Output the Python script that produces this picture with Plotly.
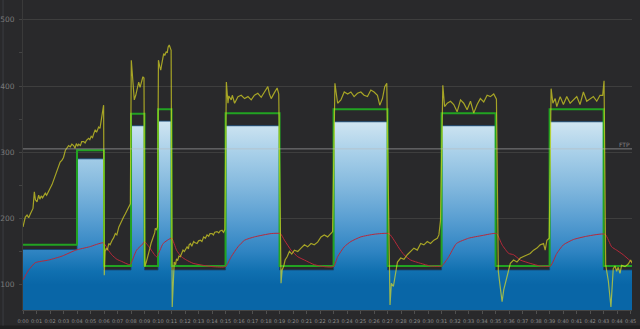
import plotly.graph_objects as go

# Workout structure: block start times (minutes), planned target and upper target band
block_start = [0, 4, 6, 8, 9, 10, 11, 15, 19, 23, 27, 31, 35, 39, 43]
workout_end = 45.1
target_w = [153, 290, 122, 340, 122, 347, 122, 340, 122, 346, 122, 340, 122, 346, 122]
upper_w = [160, 303, 128, 358, 128, 365, 128, 359, 128, 365, 128, 359, 128, 365, 128]
ftp_w = 305

# Recorded power (minutes, watts)
power_min = [
    0.00, 0.10, 0.17, 0.30, 0.42, 0.55, 0.65, 0.74, 0.84, 0.92, 1.04, 1.10, 1.16, 1.25, 1.35,
    1.45, 1.55, 1.65, 1.75, 1.90, 2.00, 2.15, 2.25, 2.40, 2.50, 2.64, 2.75, 2.89, 3.00, 3.14,
    3.25, 3.38, 3.50, 3.62, 3.75, 3.85, 3.95, 4.05, 4.12, 4.25, 4.35, 4.50, 4.60, 4.70, 4.86,
    4.95, 5.05, 5.15, 5.24, 5.35, 5.45, 5.60, 5.70, 5.78, 5.85, 5.90, 5.97,
    6.02, 6.08, 6.17, 6.25, 6.35, 6.45, 6.60, 6.70, 6.84, 6.95, 7.10, 7.20, 7.33, 7.45, 7.58,
    7.70, 7.83, 7.95,
    8.02, 8.12, 8.24, 8.35, 8.44, 8.50, 8.57, 8.67, 8.75, 8.81, 8.88, 8.96,
    9.02, 9.13, 9.22, 9.30, 9.40, 9.48, 9.58, 9.68, 9.75, 9.80, 9.88, 9.96,
    10.03, 10.12, 10.20, 10.28, 10.35, 10.42, 10.50, 10.60, 10.68, 10.75, 10.83, 10.92, 10.97,
    11.05, 11.12, 11.20, 11.30, 11.37, 11.45, 11.55, 11.65, 11.75, 11.85, 11.95, 12.05, 12.15,
    12.25, 12.30, 12.40, 12.50, 12.64, 12.75, 12.89, 13.00, 13.14, 13.25, 13.38, 13.50, 13.63,
    13.75, 13.85, 14.00, 14.10, 14.20, 14.37, 14.50, 14.60, 14.74, 14.85, 14.95,
    15.06, 15.18, 15.24, 15.42, 15.50, 15.67, 15.92, 16.16, 16.41, 16.66, 16.90, 17.14, 17.39,
    17.64, 17.88, 18.13, 18.25, 18.38, 18.62, 18.82, 18.94,
    19.11, 19.19, 19.31, 19.41, 19.56, 19.73, 19.90, 20.10, 20.35, 20.59, 20.84, 21.08, 21.33,
    21.57, 21.82, 22.07, 22.31, 22.56, 22.80, 22.93,
    23.10, 23.30, 23.54, 23.79, 24.04, 24.28, 24.52, 24.77, 25.02, 25.26, 25.51, 25.76, 26.00,
    26.25, 26.42, 26.62, 26.79, 26.94,
    27.18, 27.28, 27.43, 27.60, 27.73, 27.97, 28.21, 28.46, 28.71, 28.95, 29.20, 29.45, 29.69,
    29.94, 30.18, 30.43, 30.68, 30.80, 30.92,
    31.09, 31.22, 31.42, 31.66, 31.90, 32.15, 32.40, 32.64, 32.89, 33.14, 33.38, 33.63, 33.87,
    34.12, 34.37, 34.61, 34.86, 35.06,
    35.20, 35.35, 35.48, 35.60, 35.79, 35.89, 36.09, 36.33, 36.58, 36.83, 37.07, 37.32, 37.56,
    37.81, 38.06, 38.30, 38.55, 38.67, 38.80, 38.97,
    39.11, 39.24, 39.41, 39.53, 39.78, 40.02, 40.27, 40.52, 40.76, 41.01, 41.25, 41.50, 41.75,
    41.99, 42.24, 42.49, 42.73, 42.93, 43.03,
    43.15, 43.35, 43.54, 43.62, 43.71, 43.84, 43.96, 44.08, 44.21, 44.33, 44.58, 44.82, 45.00,
    45.11,
]
power_w = [
    187, 196, 202, 205, 201, 207, 212, 215, 240, 228, 225, 232, 235, 229, 234,
    231, 236, 238, 235, 240, 245, 251, 257, 263, 270, 280, 285, 288, 292, 303,
    306, 310, 308, 312, 310, 306, 313, 309, 312, 310, 316, 316, 314, 318, 321,
    319, 324, 322, 328, 334, 330, 338, 336, 345, 353, 360, 371,
    114, 150, 155, 152, 162, 160, 167, 170, 177, 175, 187, 192, 197, 202, 207,
    212, 217, 222,
    439, 410, 379, 386, 394, 400, 406, 398, 405, 411, 414, 412,
    127, 134, 140, 147, 155, 162, 167, 172, 178, 185, 183, 187,
    439, 430, 424, 434, 442, 449, 446, 452, 450, 459, 462, 458, 454,
    66, 110, 134, 130, 139, 136, 143, 142, 148, 152, 150, 155, 157,
    154, 160, 162, 158, 165, 163, 162, 166, 167, 165, 172, 170, 175,
    173, 177, 177, 175, 179, 180, 178, 181, 182, 179, 183,
    406, 374, 385, 379, 386, 374, 384, 386, 381, 384, 379, 386, 389,
    383, 391, 399, 388, 381, 390, 397, 388,
    102, 122, 128, 137, 142, 150, 146, 152, 150, 155, 160, 157, 162,
    160, 164, 172, 175, 172, 177, 180,
    404, 374, 379, 391, 388, 391, 384, 389, 391, 386, 384, 394, 391,
    386, 371, 381, 399, 404,
    69, 102, 97, 122, 134, 140, 138, 145, 150, 155, 152, 162, 160,
    165, 162, 167, 170, 175, 197,
    401, 369, 374, 377, 372, 361, 379, 374, 364, 377, 359, 372, 381,
    376, 386, 384, 388, 380,
    120, 95, 74, 92, 107, 119, 132, 137, 134, 140, 142, 145, 147,
    152, 155, 160, 162, 152, 167, 170,
    396, 374, 381, 369, 384, 372, 384, 374, 379, 384, 372, 391, 377,
    381, 384, 377, 386, 386, 408,
    130, 105, 66, 102, 124, 128, 120, 126, 117, 129, 127, 131, 137,
    132,
]

# Heart rate, scaled onto the power axis
hr_min = [
    0.00, 0.42, 0.91, 1.90, 2.90, 3.91, 4.92, 5.95,
    6.32, 6.57, 6.96, 7.30, 7.92,
    8.41, 8.90, 9.00, 9.40, 9.89, 10.38, 11.00,
    11.37, 11.73, 12.10, 12.60, 13.34, 14.07, 15.00,
    15.42, 15.92, 16.41, 17.14, 18.38, 19.06,
    19.36, 19.85, 20.35, 20.84, 21.57, 22.31, 23.00,
    23.30, 23.79, 24.28, 25.02, 26.00, 27.10,
    27.48, 27.85, 28.21, 28.71, 29.45, 30.18, 31.00,
    31.50, 32.10, 33.00, 34.00, 35.06,
    35.48, 35.97, 36.33, 36.83, 37.56, 38.30, 39.06,
    39.53, 40.02, 40.76, 41.75, 43.10,
    43.59, 43.96, 44.45, 45.07,
]
hr_val = [
    107, 122, 133, 137, 143, 152, 157, 163,
    152, 145, 138, 135, 130,
    152, 162, 165, 155, 142, 162, 170,
    152, 142, 137, 132, 129, 127, 127,
    142, 157, 167, 172, 177, 177,
    167, 152, 142, 137, 130, 127, 127,
    142, 157, 165, 172, 176, 177,
    167, 155, 145, 137, 132, 128, 128,
    141, 162, 170, 174, 177,
    160, 147, 145, 137, 132, 128, 128,
    147, 160, 168, 173, 176,
    157, 152, 145, 134,
]

x_ticks = list(range(0, 46))
x_tick_text = [f"0:{m:02d}" for m in x_ticks]
y_ticks = [100, 200, 300, 400, 500]

BG = "#29292b"

step_x = block_start + [workout_end]
fig = go.Figure()

# Planned target as a gradient-filled step area
fig.add_trace(go.Scatter(
    x=step_x, y=target_w + [target_w[-1]],
    mode="lines", line=dict(shape="hv", color="rgba(20,70,115,0.85)", width=1),
    fill="tozeroy",
    fillgradient=dict(
        type="vertical",
        colorscale=[
            [0.0, "#0966a7"], [0.08, "#1070b0"], [0.2, "#2f84c2"], [0.4, "#5a9fd2"],
            [0.6, "#84b9de"], [0.8, "#a9d0e9"], [1.0, "#d3e7f2"],
        ],
        start=100, stop=350,
    ),
    hoverinfo="skip", showlegend=False,
))

# Upper target band
fig.add_trace(go.Scatter(
    x=step_x, y=upper_w + [upper_w[-1]],
    mode="lines", line=dict(shape="hv", color="#22a322", width=2),
    hoverinfo="skip", showlegend=False,
))

# Heart rate
fig.add_trace(go.Scatter(
    x=hr_min, y=hr_val, mode="lines",
    line=dict(color="#b8283a", width=1, shape="spline", smoothing=0.5),
    hoverinfo="skip", showlegend=False,
))

# Power
fig.add_trace(go.Scatter(
    x=power_min, y=power_w, mode="lines",
    line=dict(color="rgba(225,222,36,0.68)", width=1.2),
    hoverinfo="skip", showlegend=False,
))

# FTP reference line and label
fig.add_shape(type="line", xref="paper", x0=0, x1=1, y0=ftp_w, y1=ftp_w,
              line=dict(color="rgba(185,185,185,0.6)", width=1), layer="above")
fig.add_annotation(text="FTP", xref="paper", x=1, xanchor="right", y=ftp_w, yanchor="bottom",
                   showarrow=False, font=dict(family="DejaVu Sans", size=6, color="#858585"),
                   yshift=-1)

# Frame details: darker strip along the bottom and a lighter edge on the left
fig.add_shape(type="rect", xref="paper", yref="paper",
              x0=-0.05, x1=1.05, y0=-19 / 310, y1=-15.5 / 310,
              fillcolor="#1e1e1f", line=dict(width=0), layer="below")
fig.add_shape(type="rect", xref="paper", yref="paper",
              x0=-21 / 611, x1=-19 / 611, y0=-15.5 / 310, y1=1,
              fillcolor="#323336", line=dict(width=0), layer="below")

fig.update_layout(
    width=640, height=329,
    margin=dict(l=21, r=8, t=0, b=19),
    paper_bgcolor=BG, plot_bgcolor=BG,
    font=dict(family="DejaVu Sans", color="#808080"),
    showlegend=False,
    xaxis=dict(
        range=[0, workout_end], tickvals=x_ticks, ticktext=x_tick_text,
        tickangle=0, tickfont=dict(size=5, color="#8c8c8c"),
        ticks="outside", ticklen=3, tickcolor="#505050", tickwidth=1,
        ticklabelstandoff=3,
        showgrid=False, zeroline=False, showline=True, linecolor="#454545",
        fixedrange=True,
    ),
    yaxis=dict(
        range=[61.5, 530], tickvals=y_ticks,
        tickfont=dict(size=7.5, color="#7a7a7a"),
        ticks="outside", ticklen=3, tickcolor="#444444",
        showgrid=True, gridcolor="#3e3e3e", gridwidth=1,
        minor=dict(dtick=50, tick0=0, ticks="outside", ticklen=3, tickcolor="#444444", showgrid=False),
        zeroline=False, showline=True, linecolor="#3a3a3a",
        ticklabelstandoff=3, fixedrange=True,
    ),
)

fig.write_html("out.html")
